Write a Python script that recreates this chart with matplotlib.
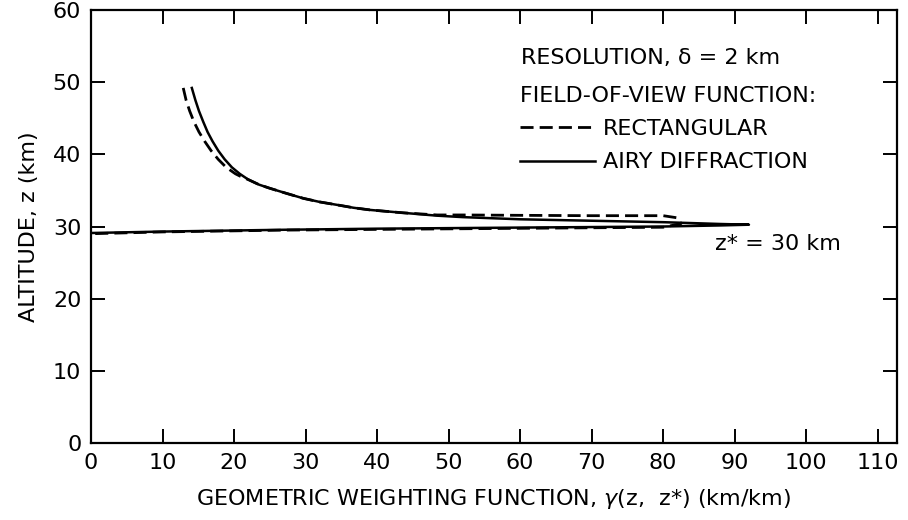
import matplotlib
matplotlib.use("Agg")
import matplotlib.pyplot as plt

plt.rcParams["font.family"] = ["DejaVu Sans"]

# ── Data (gamma in km/km, altitude z in km) ─────────────────────────────
# Airy diffraction: upper branch from the top down to the tip, then lower branch
airy_x = [14.1, 14.6, 15.1, 15.7, 16.3, 17.0, 17.8, 18.7, 19.7, 20.8, 22.0,
          23.5, 25.0, 27.3, 29.7, 32.0, 34.4, 36.7, 39.0, 43.6, 48.4, 52.0,
          60.0, 70.0, 80.0, 88.0, 92.0,
          88.0, 80.0, 60.0, 40.0, 27.0, 10.0, 0.0]
airy_z = [49.2, 47.5, 46.0, 44.5, 43.1, 41.8, 40.5, 39.3, 38.2, 37.3, 36.5,
          35.8, 35.3, 34.6, 33.9, 33.4, 33.0, 32.6, 32.3, 31.9, 31.5, 31.3,
          31.0, 30.8, 30.6, 30.35, 30.25,
          30.15, 30.0, 29.85, 29.7, 29.55, 29.3, 29.1]

# Rectangular field of view
rect_x = [12.9, 13.3, 13.8, 14.4, 15.1, 15.9, 16.8, 17.8, 18.9, 20.2, 21.1,
          22.0, 23.5, 25.0, 27.3, 29.7, 32.0, 34.4, 36.7, 39.0, 43.6, 48.4,
          52.0, 60.0, 70.0, 80.0, 82.0, 82.5,
          80.0, 60.0, 40.0, 27.0, 10.0, 0.0]
rect_z = [49.2, 47.5, 46.0, 44.5, 43.1, 41.8, 40.5, 39.3, 38.2, 37.3, 36.85,
          36.5, 35.8, 35.3, 34.6, 33.9, 33.4, 33.0, 32.6, 32.3, 31.9, 31.6,
          31.6, 31.55, 31.5, 31.5, 31.2, 30.4,
          29.9, 29.75, 29.6, 29.5, 29.25, 29.0]

x_ticks = list(range(0, 111, 10))
y_ticks = list(range(0, 61, 10))

FS = 16

fig = plt.figure(figsize=(9.08, 5.2), dpi=100)
ax = fig.add_axes([0.1002, 0.148, 0.8877, 0.8328])

ax.plot(rect_x, rect_z, color="black", lw=2.0, linestyle=(0, (4.7, 2.2)),
        label="RECTANGULAR")
ax.plot(airy_x, airy_z, color="black", lw=1.8, label="AIRY DIFFRACTION")

ax.set_xlim(0, 112.7)
ax.set_ylim(0, 60)
ax.set_xticks(x_ticks)
ax.set_yticks(y_ticks)
ax.tick_params(direction="in", length=10, width=1.4, labelsize=FS, pad=7,
               top=True, right=True)
for s in ax.spines.values():
    s.set_linewidth(1.6)

ax.set_xlabel("GEOMETRIC WEIGHTING FUNCTION, $\\gamma$(z,  z*) (km/km)",
              fontsize=FS, labelpad=10)
ax.set_ylabel("ALTITUDE, z (km)", fontsize=FS, labelpad=10)

ax.text(0.534, 0.888, "RESOLUTION, δ = 2 km", transform=ax.transAxes,
        fontsize=FS, va="center", ha="left")
leg = ax.legend(loc="upper left", bbox_to_anchor=(0.532, 0.825), frameon=False,
                title="FIELD-OF-VIEW FUNCTION:", title_fontsize=FS, fontsize=FS,
                alignment="left", handlelength=3.4, handletextpad=0.35,
                labelspacing=0.6, borderaxespad=0, borderpad=0)

ax.text(0.774, 0.46, "z* = 30 km", transform=ax.transAxes,
        fontsize=FS, va="center", ha="left")

plt.savefig("out.png", dpi=100)
